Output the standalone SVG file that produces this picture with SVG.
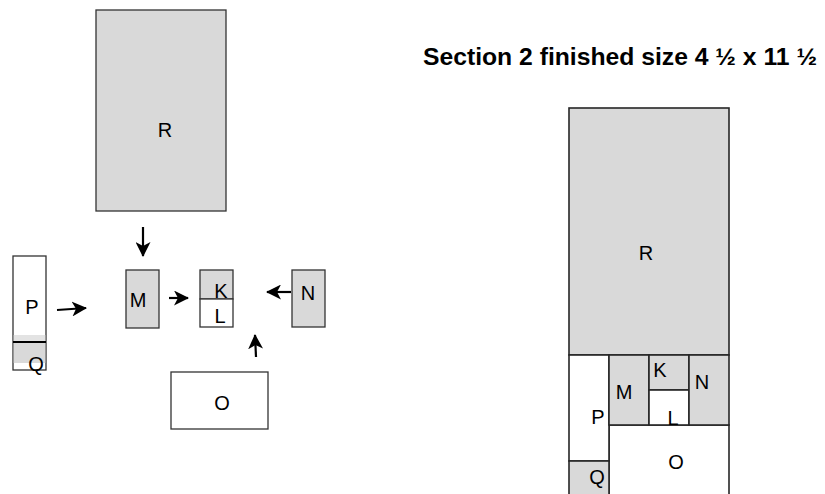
<svg xmlns="http://www.w3.org/2000/svg" width="825" height="494" viewBox="0 0 825 494">
<style>
.g{fill:#d9d9d9;stroke:#333;stroke-width:1.3}
.w{fill:#fff;stroke:#333;stroke-width:1.3}
.rg{fill:#d9d9d9;stroke:#262626;stroke-width:1.6}
.rw{fill:#fff;stroke:#262626;stroke-width:1.6}
.t{font-family:"Liberation Sans",Arial,sans-serif;font-size:20px;fill:#000;text-anchor:middle}
.a{stroke:#000;stroke-width:2.2;fill:none;marker-end:url(#ah)}
</style>
<defs>
<marker id="ah" viewBox="0 0 15 15" refX="14" refY="7.5" markerWidth="15" markerHeight="15" markerUnits="userSpaceOnUse" orient="auto">
<path d="M0,0 L15,7.5 L0,15 L4,7.5 z" fill="#000"/>
</marker>
</defs>
<rect width="825" height="494" fill="#fff"/>
<g id="left-R"><rect class="g" x="96" y="10" width="130" height="201"/><text class="t" x="165" y="137">R</text></g>
<g id="left-PQ">
<rect class="w" x="13" y="256" width="33" height="114"/>
<rect x="13.7" y="335" width="31.6" height="7" fill="#e3e3e3"/>
<rect x="13.7" y="342" width="31.6" height="21" fill="#d9d9d9"/>
<line x1="13" y1="342" x2="46" y2="342" stroke="#000" stroke-width="1.8"/>
<text class="t" x="32" y="314">P</text>
<text class="t" x="36" y="371">Q</text>
</g>
<g id="left-M"><rect class="g" x="126" y="270" width="33" height="58"/><text class="t" x="138" y="307">M</text></g>
<g id="left-KL">
<rect class="g" x="200" y="270" width="33" height="29"/>
<rect class="w" x="200" y="299" width="33" height="28"/>
<text class="t" x="221" y="298">K</text>
<text class="t" x="220" y="323">L</text>
</g>
<g id="left-N"><rect class="g" x="292" y="270" width="33" height="57"/><text class="t" x="308" y="300">N</text></g>
<g id="left-O"><rect class="w" x="171" y="372" width="97" height="57"/><text class="t" x="222" y="410">O</text></g>
<g id="connectors">
<line class="a" x1="57" y1="310" x2="86" y2="308"/>
<line class="a" x1="143" y1="227" x2="143" y2="256"/>
<line class="a" x1="169" y1="298" x2="188" y2="298"/>
<line class="a" x1="291" y1="292" x2="267" y2="292"/>
<line class="a" x1="256" y1="357" x2="255" y2="335"/>
</g>
<g id="title"><text x="423" y="65" font-family="'Liberation Sans',Arial,sans-serif" font-size="23" font-weight="bold" textLength="394" lengthAdjust="spacingAndGlyphs">Section 2 finished size 4 ½ x 11 ½</text></g>
<g id="right-R"><rect class="rg" x="569" y="108" width="160" height="247"/><text class="t" x="646" y="260">R</text></g>
<g id="right-O"><rect class="rw" x="609" y="425" width="120" height="76"/><text class="t" x="676" y="469">O</text></g>
<g id="right-P"><rect class="rw" x="569" y="355" width="40" height="106"/><text class="t" x="598" y="424">P</text></g>
<g id="right-Q"><rect class="rg" x="569" y="461" width="40" height="40"/><text class="t" x="597" y="484">Q</text></g>
<g id="right-M"><rect class="rg" x="609" y="355" width="40" height="70"/><text class="t" x="624" y="399">M</text></g>
<g id="right-K"><rect class="rg" x="649" y="355" width="40" height="35"/><text class="t" x="660" y="377">K</text></g>
<g id="right-L"><rect class="rw" x="649" y="390" width="40" height="35"/><text class="t" x="673" y="425">L</text></g>
<g id="right-N"><rect class="rg" x="689" y="355" width="40" height="70"/><text class="t" x="702" y="389">N</text></g>
</svg>
